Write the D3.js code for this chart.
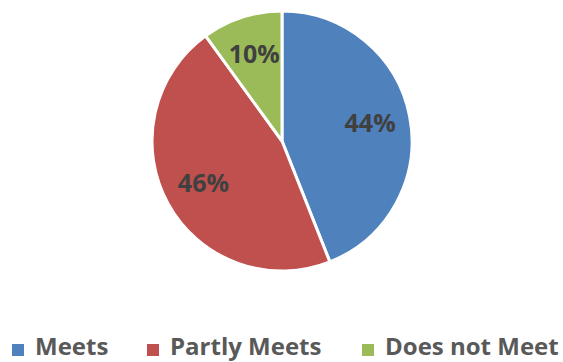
<!DOCTYPE html>
<html>
<head>
<meta charset="utf-8">
<script src="https://cdn.jsdelivr.net/npm/d3@7"></script>
<style>
  html, body { margin: 0; padding: 0; background: #fff; }
  svg { display: block; }
</style>
</head>
<body>
<svg id="chart" width="563" height="362"></svg>
<script>
// Rating shares
const categories = ["Meets", "Partly Meets", "Does not Meet"];
const values = [44, 46, 10];
const colors = ["#4F81BD", "#C0504D", "#9BBB59"];

const width = 563, height = 362;
const cx = 282, cy = 141, radius = 130;
const fontFamily = "'Open Sans', 'Noto Sans', sans-serif";

const svg = d3.select("#chart");

const data = categories.map((c, i) => ({ category: c, value: values[i], color: colors[i] }));

const pie = d3.pie().sort(null).value(d => d.value);
const arc = d3.arc().innerRadius(0).outerRadius(radius);
const labelArc = d3.arc().innerRadius(radius * 0.69).outerRadius(radius * 0.69);

const g = svg.append("g").attr("transform", `translate(${cx},${cy})`);
const arcs = pie(data);

g.selectAll("path.slice")
  .data(arcs)
  .join("path")
  .attr("class", "slice")
  .attr("d", arc)
  .attr("fill", d => d.data.color)
  .attr("stroke", "#fff")
  .attr("stroke-width", 3)
  .attr("stroke-linejoin", "round");

g.selectAll("text.value")
  .data(arcs)
  .join("text")
  .attr("class", "value")
  .attr("transform", d => `translate(${labelArc.centroid(d)})`)
  .attr("text-anchor", "middle")
  .attr("dy", "0.3em")
  .attr("font-family", fontFamily)
  .attr("font-weight", 700)
  .attr("font-size", 25)
  .attr("fill", "#404040")
  .text(d => d.data.value + "%");

// Legend along the bottom
const legendX = d3.scaleOrdinal().domain(categories).range([12, 147, 362]);
const legend = svg.append("g").attr("transform", "translate(0,344)");
const items = legend.selectAll("g.item")
  .data(data)
  .join("g")
  .attr("class", "item")
  .attr("transform", d => `translate(${legendX(d.category)},0)`);

items.append("rect")
  .attr("width", 12)
  .attr("height", 12)
  .attr("fill", d => d.color);

items.append("text")
  .attr("x", 23)
  .attr("y", 11)
  .attr("font-family", fontFamily)
  .attr("font-weight", 700)
  .attr("font-size", 24)
  .attr("fill", "#595959")
  .text(d => d.category);
</script>
</body>
</html>
